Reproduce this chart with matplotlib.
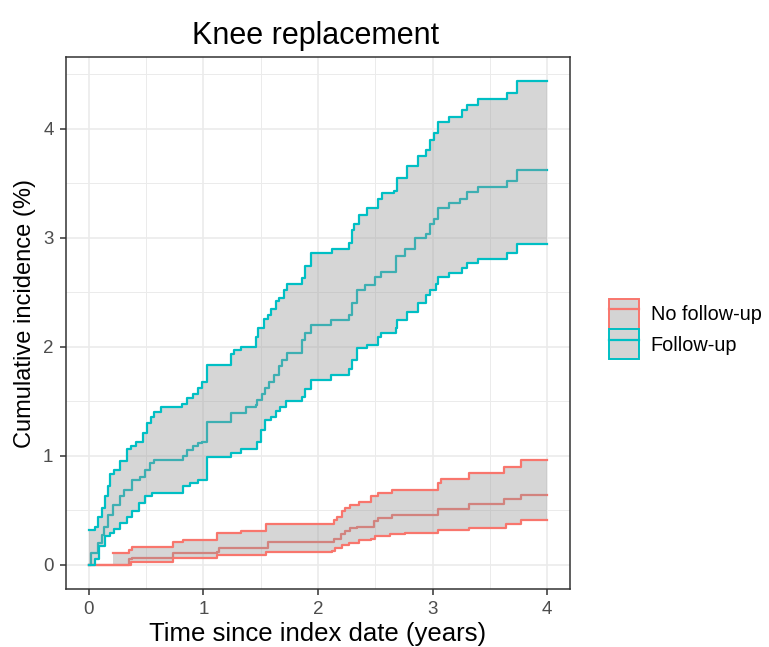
import numpy as np
import matplotlib
matplotlib.use("Agg")
import matplotlib.pyplot as plt
from matplotlib.patches import Patch
from matplotlib.lines import Line2D
from matplotlib.legend_handler import HandlerTuple
from matplotlib.ticker import MultipleLocator

plt.rcParams['font.family'] = ['Liberation Sans', 'DejaVu Sans']

# ---------------------------------------------------------------
# data, step functions
# ---------------------------------------------------------------
title = "Knee replacement"
labels = ["No follow-up", "Follow-up"]

# Follow-up: estimate
fu_est_t = [0, 0.02, 0.08, 0.11, 0.13, 0.17, 0.21, 0.27, 0.31, 0.38, 0.45, 0.49, 0.53, 0.57,
            0.82, 0.86, 0.91, 0.95, 0.99, 1.03, 1.24, 1.37, 1.46, 1.47, 1.51, 1.54, 1.57, 1.62,
            1.66, 1.69, 1.73, 1.86, 1.89, 1.94, 2.11, 2.27, 2.30, 2.34, 2.41, 2.50, 2.55, 2.68,
            2.76, 2.85, 2.94, 2.98, 3.01, 3.05, 3.14, 3.24, 3.30, 3.40, 3.65, 3.74, 4.0]
fu_est = [0, 0.11, 0.20, 0.27, 0.35, 0.46, 0.55, 0.63, 0.69, 0.78, 0.81, 0.87, 0.93, 0.96,
          1.00, 1.05, 1.09, 1.12, 1.13, 1.31, 1.39, 1.45, 1.47, 1.51, 1.57, 1.62, 1.68, 1.74,
          1.82, 1.88, 1.94, 2.06, 2.13, 2.20, 2.25, 2.29, 2.40, 2.52, 2.57, 2.64, 2.69, 2.83,
          2.90, 3.00, 3.04, 3.13, 3.17, 3.27, 3.32, 3.36, 3.42, 3.47, 3.52, 3.62, 3.62]

# Follow-up: upper bound
fu_hi_t = [0, 0.05, 0.08, 0.11, 0.14, 0.17, 0.18, 0.22, 0.27, 0.33, 0.37, 0.41, 0.47, 0.51,
           0.54, 0.57, 0.63, 0.81, 0.86, 0.91, 0.95, 0.99, 1.03, 1.24, 1.27, 1.33, 1.46, 1.48,
           1.53, 1.56, 1.59, 1.63, 1.66, 1.70, 1.73, 1.86, 1.89, 1.94, 2.12, 2.27, 2.30, 2.31,
           2.36, 2.43, 2.52, 2.56, 2.66, 2.69, 2.78, 2.87, 2.94, 2.98, 3.01, 3.05, 3.14, 3.26,
           3.30, 3.40, 3.65, 3.74, 4.0]
fu_hi = [0.32, 0.35, 0.44, 0.52, 0.63, 0.72, 0.83, 0.87, 0.95, 1.06, 1.09, 1.13, 1.21, 1.30,
         1.36, 1.40, 1.45, 1.48, 1.53, 1.57, 1.62, 1.68, 1.83, 1.93, 1.97, 2.00, 2.09, 2.17,
         2.26, 2.29, 2.35, 2.42, 2.45, 2.52, 2.58, 2.63, 2.74, 2.86, 2.90, 2.95, 3.07, 3.13,
         3.21, 3.27, 3.36, 3.41, 3.43, 3.55, 3.66, 3.75, 3.81, 3.90, 3.96, 4.06, 4.11, 4.17,
         4.22, 4.27, 4.33, 4.44, 4.44]

# Follow-up: lower bound
fu_lo_t = [0, 0.05, 0.09, 0.14, 0.18, 0.22, 0.27, 0.33, 0.38, 0.44, 0.49, 0.55, 0.82, 0.88,
           0.95, 1.03, 1.24, 1.33, 1.47, 1.50, 1.54, 1.59, 1.63, 1.67, 1.72, 1.86, 1.89, 1.94,
           2.11, 2.27, 2.30, 2.34, 2.43, 2.52, 2.55, 2.68, 2.69, 2.78, 2.87, 2.94, 2.98, 3.03,
           3.05, 3.14, 3.26, 3.30, 3.40, 3.65, 3.74, 4.0]
fu_lo = [0, 0.05, 0.17, 0.26, 0.29, 0.33, 0.38, 0.44, 0.49, 0.57, 0.63, 0.66, 0.72, 0.75,
         0.78, 0.99, 1.03, 1.06, 1.13, 1.24, 1.33, 1.36, 1.41, 1.45, 1.50, 1.54, 1.61, 1.70,
         1.74, 1.80, 1.88, 1.99, 2.02, 2.09, 2.13, 2.17, 2.25, 2.32, 2.40, 2.48, 2.52, 2.58,
         2.64, 2.68, 2.72, 2.77, 2.81, 2.86, 2.94, 2.94]

# No follow-up: estimate
nf_est_t = [0, 0.35, 0.38, 0.73, 1.12, 1.14, 1.56, 2.14, 2.20, 2.24, 2.28, 2.34, 2.49, 2.52,
            2.65, 3.05, 3.32, 3.62, 3.77, 4.0]
nf_est = [0, 0.05, 0.06, 0.11, 0.12, 0.15, 0.21, 0.24, 0.28, 0.31, 0.34, 0.35, 0.40, 0.43,
          0.46, 0.51, 0.56, 0.60, 0.64, 0.64]

# No follow-up: upper bound (starts later)
nf_hi_t = [0.21, 0.35, 0.38, 0.73, 0.82, 1.12, 1.33, 1.55, 2.14, 2.17, 2.21, 2.24, 2.28, 2.36,
           2.46, 2.52, 2.65, 3.05, 3.07, 3.32, 3.62, 3.77, 4.0]
nf_hi = [0.11, 0.14, 0.16, 0.21, 0.23, 0.29, 0.31, 0.37, 0.41, 0.44, 0.49, 0.52, 0.55, 0.58,
         0.63, 0.66, 0.69, 0.75, 0.79, 0.84, 0.90, 0.96, 0.96]

# No follow-up: lower bound
nf_lo_t = [0, 0.37, 0.73, 1.12, 1.55, 2.12, 2.15, 2.21, 2.27, 2.36, 2.46, 2.50, 2.63, 2.76,
           3.05, 3.32, 3.64, 3.77, 4.0]
nf_lo = [0, 0.03, 0.06, 0.09, 0.12, 0.13, 0.15, 0.18, 0.20, 0.23, 0.24, 0.26, 0.28, 0.29,
         0.32, 0.34, 0.37, 0.41, 0.41]

red = "#F8766D"
teal = "#00BFC4"


def step_at(t, y, x):
    # value of a right-continuous step function at x
    idx = np.searchsorted(np.asarray(t), x, side="right") - 1
    return np.asarray(y)[idx]


# ---------------------------------------------------------------
# figure
# ---------------------------------------------------------------
fig = plt.figure(figsize=(7.69, 6.47), dpi=100)
ax = fig.add_axes([66 / 769, 1 - 589 / 647, 504 / 769, 532 / 647])

groups = [
    (red, nf_est_t, nf_est, nf_lo_t, nf_lo, nf_hi_t, nf_hi),
    (teal, fu_est_t, fu_est, fu_lo_t, fu_lo, fu_hi_t, fu_hi),
]

lw = 1.6
for col, et, ev, lt, lv, ht, hv in groups:
    ax.step(et, ev, where="post", color=col, lw=lw, zorder=2)
    start = max(lt[0], ht[0])
    xs = np.union1d(lt, ht)
    xs = xs[xs >= start]
    ax.fill_between(xs, step_at(lt, lv, xs), step_at(ht, hv, xs), step="post",
                    facecolor="0.6", alpha=0.4, lw=0, zorder=3)
    ax.step(lt, lv, where="post", color=col, lw=lw, zorder=4)
    ax.step(ht, hv, where="post", color=col, lw=lw, zorder=4)

ax.set_xlim(-0.2, 4.2)
ax.set_ylim(-0.222, 4.66)
ax.xaxis.set_major_locator(MultipleLocator(1))
ax.yaxis.set_major_locator(MultipleLocator(1))
ax.xaxis.set_minor_locator(MultipleLocator(0.5))
ax.yaxis.set_minor_locator(MultipleLocator(0.5))
ax.grid(True, which="major", color="#EBEBEB", lw=1.2, zorder=0)
ax.grid(True, which="minor", color="#EBEBEB", lw=0.7, zorder=0)
ax.set_axisbelow(True)
ax.tick_params(which="major", length=4, width=1.1, color="#333333",
               labelsize=13.5, labelcolor="#4D4D4D", pad=5)
ax.tick_params(which="minor", length=0)
for s in ax.spines.values():
    s.set_color("#333333")
    s.set_linewidth(1.1)

fig.text(316 / 769, 1 - 36 / 647, title, fontsize=22, ha="center", va="center")
fig.text(318 / 769, 6 / 647, "Time since index date (years)", fontsize=18.5,
         ha="center", va="baseline")
fig.text(25 / 769, 1 - 314 / 647, "Cumulative incidence (%)", fontsize=17,
         ha="center", va="center", rotation=90)

# legend: grey key box with coloured border and line
handles = []
for col in [red, teal]:
    box = Patch(facecolor="#D4D4D4", edgecolor=col, lw=1.4)
    ln = Line2D([], [], color=col, lw=lw)
    handles.append((box, ln))
fig.legend(handles, labels, handler_map={tuple: HandlerTuple(ndivide=1, pad=0)},
           loc="center left", bbox_to_anchor=(609 / 769, 1 - 329 / 647),
           frameon=False, fontsize=14.3, handlelength=1.5, handleheight=1.93,
           handletextpad=0.6, labelspacing=0.05, borderpad=0, borderaxespad=0)

fig.savefig("out.png", dpi=100)
